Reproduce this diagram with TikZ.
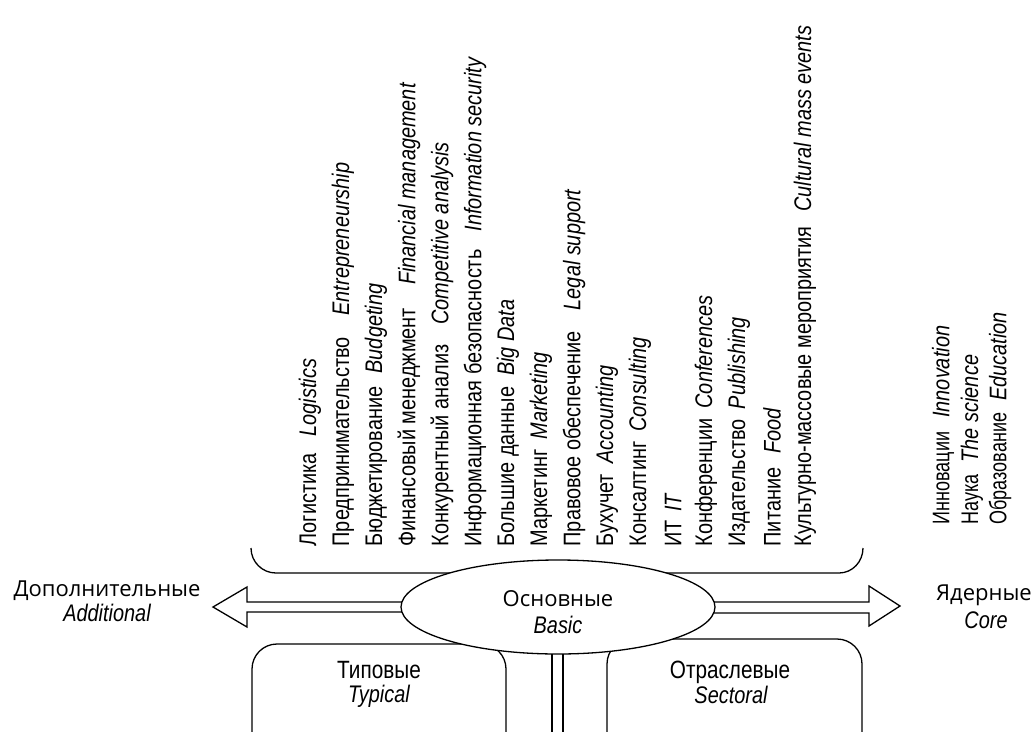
\documentclass[tikz,border=0pt]{standalone}
\usepackage{fontspec}
\setmainfont{Open Sans}
\newfontfamily\narrow[FakeStretch=0.83]{Liberation Sans}
\newfontfamily\cond[FakeStretch=0.75]{Liberation Sans}
\usetikzlibrary{shapes.geometric}
\begin{document}
\begin{tikzpicture}[x=1pt,y=-1pt,line width=1.3pt,
  col/.style={rotate=90,anchor=west,inner sep=0pt,font={\narrow\fontsize{24}{26}\selectfont}},
  rcol/.style={rotate=90,anchor=west,inner sep=0pt,font={\cond\fontsize{24}{26}\selectfont}},
  en/.style={},
  lab/.style={anchor=base,inner sep=0pt,font={\fontsize{22}{26}\selectfont}},
  itlab/.style={anchor=base,inner sep=0pt,font={\narrow\itshape\fontsize{24}{26}\selectfont}},
  boxlab/.style={anchor=base,inner sep=0pt,font={\narrow\fontsize{25}{28}\selectfont}},
  bigarrow/.style={line width=1.3pt,line join=miter}]
\useasboundingbox (0,0) rectangle (1036,731);
\clip (0,0) rectangle (1036,731);

% rotated list
\node[col] (l1)  at (310,547) {Логистика\hspace{17pt}\textit{Logistics}};
\node[col] (l2)  at (343,547) {Предпринимательство\hspace{22pt}\textit{Entrepreneurship}};
\node[col] (l3)  at (376,547) {Бюджетирование\hspace{13pt}\textit{Budgeting}};
\node[col] (l4)  at (409,547) {Финансовый менеджмент\hspace{23pt}\textit{Financial management}};
\node[col] (l5)  at (442,547) {Конкурентный анализ\hspace{20pt}\textit{Competitive analysis}};
\node[col] (l6)  at (475,547) {Информационная безопасность\hspace{18pt}\textit{Information security}};
\node[col] (l7)  at (508,547) {Большие данные\hspace{11pt}\textit{Big Data}};
\node[col] (l8)  at (541,547) {Маркетинг\hspace{10pt}\textit{Marketing}};
\node[col] (l9)  at (574,547) {Правовое обеспечение\hspace{21pt}\textit{Legal support}};
\node[col] (l10) at (607,547) {Бухучет\hspace{10pt}\textit{Accounting}};
\node[col] (l11) at (640,547) {Консалтинг\hspace{10pt}\textit{Consulting}};
\node[col] (l12) at (673,547) {ИТ\hspace{8pt}\textit{IT}};
\node[col] (l13) at (706,547) {Конференции\hspace{10pt}\textit{Conferences}};
\node[col] (l14) at (739,547) {Издательство\hspace{10pt}\textit{Publishing}};
\node[col] (l15) at (772,547) {Питание\hspace{14pt}\textit{Food}};
\node[col] (l16) at (805,547) {Культурно-массовые мероприятия\hspace{15pt}\textit{Cultural mass events}};

\node[rcol] (r1) at (943,525) {Инновации\hspace{14pt}{\narrow\itshape Innovation}};
\node[rcol] (r2) at (972,525) {Наука\hspace{12pt}{\narrow\itshape The science}};
\node[rcol] (r3) at (1000,525) {Образование\hspace{12pt}{\narrow\itshape Education}};

% brace
\draw (251,548) to[out=-90,in=180] (276,573) -- (839,573) to[out=0,in=-90] (863,548);

% lower boxes
\draw[rounded corners=25pt] (252,745) -- (252,644) -- (506,644) -- (506,745);
\draw[rounded corners=25pt] (607,745) -- (607,639) -- (862,639) -- (862,745);

% labels
\node[lab] (addru) at (107,596) {Дополнительные};
\node[itlab] (adden) at (107,621) {Additional};
\node[lab] (coreru) at (984,600) {Ядерные};
\node[itlab] (coreen) at (986,628) {Core};

% ellipse position
\coordinate (c) at (558,607);

% fat arrows
\draw[bigarrow] (470,602) -- (247,602) -- (247,587) -- (213,607) -- (247,627) -- (247,612) -- (470,612);
\draw[bigarrow] (650,602) -- (869,602) -- (869,586) -- (900,606) -- (869,626) -- (869,613) -- (650,613);

% vertical double line
\draw[double distance=9.7pt] (557.5,620) -- (557.5,745);

% ellipse
\node[ellipse,draw,fill=white,minimum width=314pt,minimum height=94pt,inner sep=0pt] (basic) at (c) {};
\node[lab] (basicru) at (558,606) {Основные};
\node[itlab] (basicen) at (558,633) {Basic};

\node[boxlab] (typru) at (379,678) {Типовые};
\node[itlab] (typen) at (379,702) {Typical};
\node[boxlab] (secru) at (730,678) {Отраслевые};
\node[itlab] (secen) at (731,703) {Sectoral};
\end{tikzpicture}
\end{document}
